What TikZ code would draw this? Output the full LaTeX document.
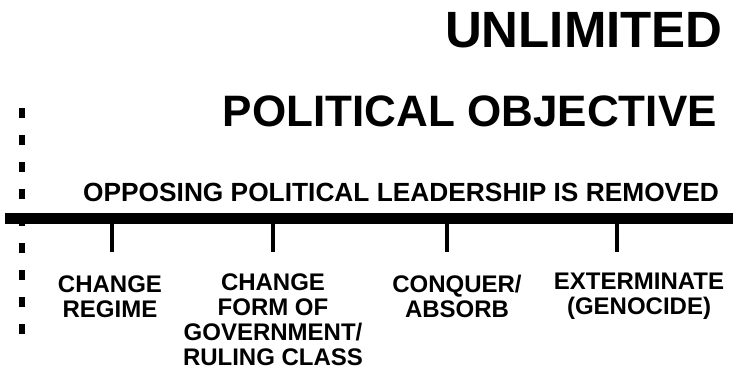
\documentclass[tikz,border=0pt]{standalone}
\usepackage{fontspec}
\setmainfont{Liberation Sans}
\usetikzlibrary{positioning}

\begin{document}
\begin{tikzpicture}[x=1pt, y=-1pt,
    title/.style={font=\fontsize{#1}{#1}\selectfont\bfseries, anchor=base east, inner sep=0pt},
    label/.style={font=\fontsize{24}{25}\selectfont\bfseries, align=center, anchor=base, inner sep=0pt}]

    \useasboundingbox (0,0) rectangle (733,371);

    % HEADINGS
    \node[title=51] (unlimited) at (723,48) {UNLIMITED};
    \node[title=44] (objective) at (717,127) {POLITICAL OBJECTIVE};
    \node[title=26.3] (removed) at (719,202) {OPPOSING POLITICAL LEADERSHIP IS REMOVED};

    % DASHED BOUNDARY
    \draw[line width=6pt, dash pattern=on 10pt off 17pt] (22,108) -- (22,334);

    % SPECTRUM LINE
    \draw[line width=11pt] (5,218.5) -- (733,218.5);

    % OUTCOMES (anchored at the baseline of the last line)
    \node[label] (regime)  at (110,317) {CHANGE\\REGIME};
    \node[label] (form)    at (273,365) {CHANGE\\FORM OF\\GOVERNMENT/\\RULING CLASS};
    \node[label] (conquer) at (457,317) {CONQUER/\\ABSORB};
    \node[label] (exterm)  at (639,314) {EXTERMINATE\\(GENOCIDE)};

    % TICKS
    \foreach \n/\x in {regime/112, form/273, conquer/447, exterm/617}{
        \coordinate (tick-\n) at (\x,222);
        \draw[line width=4pt] (tick-\n) -- ++(0,30);
    }

\end{tikzpicture}
\end{document}
